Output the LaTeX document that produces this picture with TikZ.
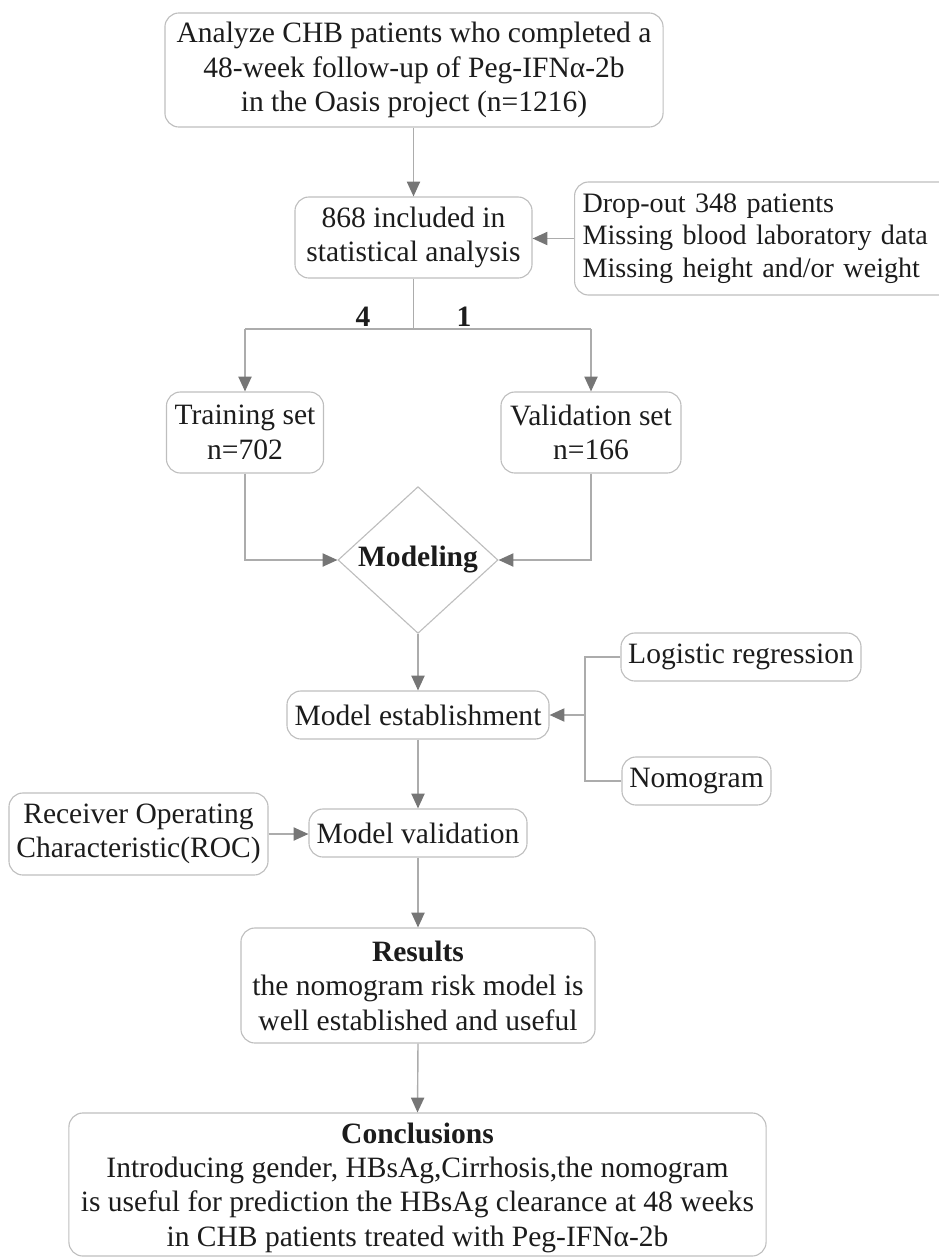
\documentclass[tikz,border=0pt]{standalone}
\usepackage{fontspec}
\setmainfont{Liberation Serif}
\usetikzlibrary{arrows.meta,shapes.geometric}
\definecolor{boxgray}{RGB}{190,190,190}
\definecolor{linegray}{RGB}{172,172,172}
\definecolor{tipgray}{RGB}{118,118,118}
\definecolor{txtgray}{RGB}{28,28,28}
\begin{document}
\begin{tikzpicture}[x=0.025cm,y=-0.025cm,
  font=\fontsize{21}{24.5}\selectfont, text=txtgray,
  box/.style={draw=boxgray, line width=0.8pt, rounded corners=0.35cm, inner sep=0pt, align=center},
  diam/.style={draw=boxgray, line width=0.8pt, diamond, inner sep=0pt},
  line/.style={draw=linegray, line width=1pt},
  arr/.style={line, -{Triangle[length=0.37cm, width=0.33cm, color=tipgray]}},
  ratio/.style={font=\fontsize{21}{24.5}\selectfont\bfseries}]
\useasboundingbox (0,0) rectangle (939,1257);
\node[box, minimum width=12.45cm, minimum height=2.85cm] (top) at (414,70) {Analyze CHB patients who completed a\\48-week follow-up of Peg-IFNα-2b\\in the Oasis project (n=1216)};
\node[box, minimum width=5.925cm, minimum height=2.025cm] (incl) at (413.5,237.5) {868 included in\\statistical analysis};
\node[box, anchor=west, text width=9.6cm, inner xsep=0.2cm, minimum height=2.825cm, align=left, font=\fontsize{20}{23}\selectfont] (drop) at (574,238.5) {Drop-out 348 patients\\Missing blood laboratory data\\Missing height and/or weight};
\coordinate (split) at (413.5,329);
\node[ratio] (four) at (363,317) {4};
\node[ratio] (one) at (464,317) {1};
\node[box, minimum width=3.925cm, minimum height=2.025cm] (train) at (245,432.5) {Training set\\n=702};
\node[box, minimum width=4.5cm, minimum height=2.025cm] (valid) at (591,432.5) {Validation set\\n=166};
\node[diam, minimum width=4cm, minimum height=2.975cm] (model) at (418,560) {\textbf{Modeling}};
\node[box, minimum width=6.55cm, minimum height=1.2cm] (est) at (418,715) {Model establishment};
\node[box, minimum width=6cm, minimum height=1.2cm] (logit) at (741,657) {Logistic regression};
\node[box, minimum width=3.725cm, minimum height=1.2cm] (nomo) at (696.5,781) {Nomogram};
\coordinate (join) at (585,715);
\node[box, minimum width=5.45cm, minimum height=1.2cm] (mval) at (418,833) {Model validation};
\node[box, minimum width=6.475cm, minimum height=2.05cm] (roc) at (138.5,834) {Receiver Operating\\Characteristic(ROC)};
\node[box, minimum width=8.85cm, minimum height=2.875cm] (res) at (418,985.5) {\textbf{Results}\\the nomogram risk model is\\well established and useful};
\node[box, minimum width=17.425cm, minimum height=3.575cm, text depth=-0.1cm] (concl) at (417.5,1184.5) {\textbf{Conclusions}\\Introducing gender, HBsAg,Cirrhosis,the nomogram\\is useful for prediction the HBsAg clearance at 48 weeks\\in CHB patients treated with Peg-IFNα-2b};
\draw[arr] (top.south -| incl.north) -- (incl.north);
\draw[arr] (drop.west) -- (drop.west -| incl.east);
\draw[line] (incl.south) -- (split);
\draw[line] (split -| train) -- (split -| valid);
\draw[arr] (split -| train) -- (train.north);
\draw[arr] (split -| valid) -- (valid.north);
\draw[arr] (train.south) |- (model.west);
\draw[arr] (valid.south) |- (model.east);
\draw[arr] (model.south) -- (est.north);
\draw[line] (logit.west) -| (join);
\draw[line] (nomo.west) -| (join);
\draw[arr] (join) -- (est.east);
\draw[arr] (est.south) -- (mval.north);
\draw[arr] (roc.east) -- (roc.east -| mval.west);
\draw[arr] (mval.south) -- (res.north);
\draw[arr] (res.south) -- (concl.north);
\end{tikzpicture}
\end{document}
